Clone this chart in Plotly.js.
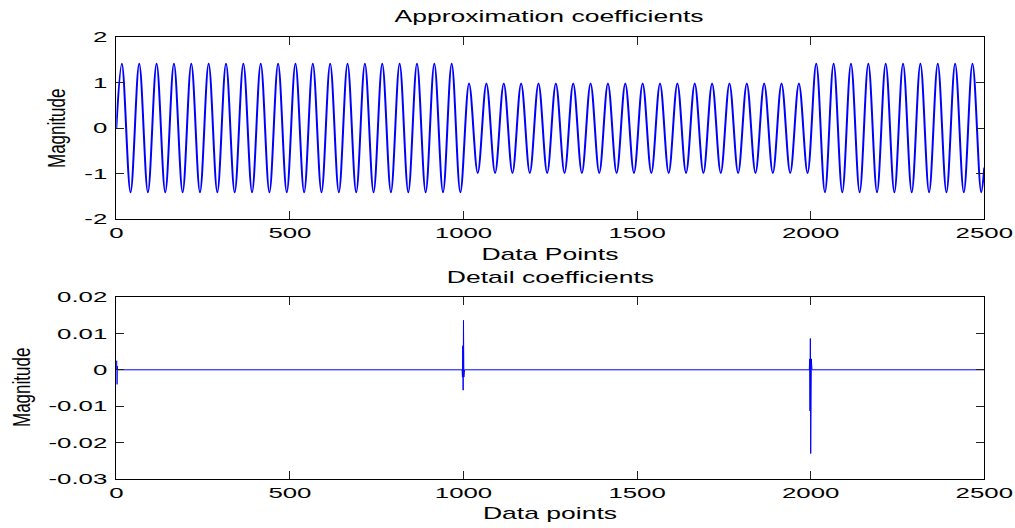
<!DOCTYPE html>
<html>
<head>
<meta charset="utf-8">
<script src="https://cdn.plot.ly/plotly-3.0.1.min.js"></script>
<style>
  html, body { margin: 0; padding: 0; background: #ffffff; }
  #chart { width: 1015px; height: 528px; }
</style>
</head>
<body>
<div id="chart"></div>
<script>
// ---- Data ----
// Approximation coefficients: positions (data points) and values of the wave's peaks and troughs
var approxX = [0,
  16, 41, 66, 91, 116, 141, 166, 191, 216, 241, 266, 291, 316, 341, 366, 391, 416, 441, 466, 491,
  516, 541, 566, 591, 616, 641, 666, 691, 716, 741, 766, 791, 816, 841, 866, 891, 916, 941, 966, 991,
  1016, 1041, 1066, 1091, 1116, 1141, 1166, 1191, 1216, 1241, 1266, 1291, 1316, 1341, 1366, 1391, 1416, 1441, 1466, 1491,
  1516, 1541, 1566, 1591, 1616, 1641, 1666, 1691, 1716, 1741, 1766, 1791, 1816, 1841, 1866, 1891, 1916, 1941, 1966, 1991,
  2016, 2041, 2066, 2091, 2116, 2141, 2166, 2191, 2216, 2241, 2266, 2291, 2316, 2341, 2366, 2391, 2416, 2441, 2466, 2491,
  2500];
var approxY = [0,
  1.41, -1.41, 1.41, -1.41, 1.41, -1.41, 1.41, -1.41, 1.41, -1.41, 1.41, -1.41, 1.41, -1.41, 1.41, -1.41, 1.41, -1.41, 1.41, -1.41,
  1.41, -1.41, 1.41, -1.41, 1.41, -1.41, 1.41, -1.41, 1.41, -1.41, 1.41, -1.41, 1.41, -1.41, 1.41, -1.41, 1.41, -1.41, 1.41, -1.41,
  0.98, -0.99, 0.98, -0.99, 0.98, -0.99, 0.98, -0.99, 0.98, -0.99, 0.98, -0.99, 0.98, -0.99, 0.98, -0.99, 0.98, -0.99, 0.98, -0.99,
  0.98, -0.99, 0.98, -0.99, 0.98, -0.99, 0.98, -0.99, 0.98, -0.99, 0.98, -0.99, 0.98, -0.99, 0.98, -0.99, 0.98, -0.99, 0.98, -0.99,
  1.41, -1.41, 1.41, -1.41, 1.41, -1.41, 1.41, -1.41, 1.41, -1.41, 1.41, -1.41, 1.41, -1.41, 1.41, -1.41, 1.41, -1.41, 1.41, -1.41,
  -0.87];

// Detail coefficients: flat at zero except short bursts at 0, 1000 and 2000
var detailX = [0, 1, 2, 3, 4,
  996, 997, 998, 999, 1000, 1001, 1002, 1003,
  1996, 1997, 1998, 1999, 2000, 2001, 2002, 2003, 2004,
  2500];
var detailY = [0, 0.0025, -0.004, 0.001, 0,
  0, -0.002, 0.0066, -0.0056, 0.0136, -0.002, 0.001, 0,
  0, 0.003, -0.0113, 0.0086, -0.023, -0.0025, 0.003, 0.001, 0,
  0];

// Tick values and labels
var xTickVals = [0, 500, 1000, 1500, 2000, 2500];
var xTickText = ['0', '500', '1000', '1500', '2000', '2500'];
var y1TickVals = [-2, -1, 0, 1, 2];
var y1TickText = ['-2', '-1', '0', '1', '2'];
var y2TickVals = [-0.03, -0.02, -0.01, 0, 0.01, 0.02];
var y2TickText = ['-0.03', '-0.02', '-0.01', '0', '0.01', '0.02'];

// Text
var topTitle = 'Approximation coefficients';
var bottomTitle = 'Detail coefficients';
var topXLabel = 'Data Points';
var bottomXLabel = 'Data points';
var yLabel = 'Magnitude';

// ---- Styling ----
var FONT = 'Liberation Sans, Arial, Helvetica, sans-serif';
var TICK_STRETCH = 1.72, TITLE_STRETCH = 1.56, YTITLE_STRETCH = 1.4;

function axisCommon() {
  return {
    showline: true, linecolor: '#000', linewidth: 1, mirror: 'ticks',
    ticks: 'inside', ticklen: 8, tickwidth: 1, tickcolor: '#222',
    showgrid: false, zeroline: false,
    tickfont: { family: FONT, size: 15, color: '#000' },
    tickmode: 'array', fixedrange: true
  };
}

var xa1 = Object.assign(axisCommon(), { domain: [0.11458, 0.96975], range: [0, 2500], tickvals: xTickVals, ticktext: xTickText, anchor: 'y' });
var xa2 = Object.assign(axisCommon(), { domain: [0.11458, 0.96975], range: [0, 2500], tickvals: xTickVals, ticktext: xTickText, anchor: 'y2' });
var ya1 = Object.assign(axisCommon(), { domain: [0.58523, 0.92992], range: [-2, 2], tickvals: y1TickVals, ticktext: y1TickText, anchor: 'x', ticklabelstandoff: 5 });
var ya2 = Object.assign(axisCommon(), { domain: [0.09280, 0.43750], range: [-0.03, 0.02], tickvals: y2TickVals, ticktext: y2TickText, anchor: 'x2', ticklabelstandoff: 5 });

var traces = [
  { x: approxX, y: approxY, xaxis: 'x', yaxis: 'y', type: 'scatter', mode: 'lines',
    line: { color: '#0000ff', width: 2, shape: 'spline', smoothing: 1 }, hoverinfo: 'skip' },
  { x: detailX, y: detailY, xaxis: 'x2', yaxis: 'y2', type: 'scatter', mode: 'lines',
    line: { color: '#0000ff', width: 1 }, hoverinfo: 'skip' }
];

function ann(text, x, y, angle) {
  return { text: text, x: x, y: y, xref: 'paper', yref: 'paper', xanchor: 'center', yanchor: 'middle',
    showarrow: false, textangle: angle || 0, font: { family: FONT, size: 17, color: '#000' } };
}

var layout = {
  width: 1015, height: 528,
  margin: { l: 0, r: 0, t: 0, b: 0 },
  paper_bgcolor: '#ffffff', plot_bgcolor: '#ffffff',
  showlegend: false,
  xaxis: xa1, yaxis: ya1, xaxis2: xa2, yaxis2: ya2,
  annotations: [
    ann(topTitle, 0.5409, 0.96875),
    ann(topXLabel, 0.5414, 0.51705),
    ann(yLabel, 0.05714, 0.75758, -90),
    ann(bottomTitle, 0.5419, 0.47443),
    ann(bottomXLabel, 0.5419, 0.02652),
    ann(yLabel, 0.02266, 0.26705, -90)
  ]
};

// The reference picture is horizontally stretched; widen glyphs the same way.
function stretchText(gd) {
  var nodes = gd.querySelectorAll('text');
  nodes.forEach(function (t) {
    var pc = (t.parentNode && t.parentNode.getAttribute('class')) || '';
    var c = t.getAttribute('class') || '';
    var s = null, rotated = false;
    if (/tick/.test(pc)) s = TICK_STRETCH;
    else if (/annotation-text/.test(c)) {
      s = TITLE_STRETCH;
      if (t.textContent === yLabel) { rotated = true; s = YTITLE_STRETCH; }
    }
    if (!s) return;
    var x = parseFloat(t.getAttribute('x')) || 0;
    var y = parseFloat(t.getAttribute('y')) || 0;
    var T = t.getAttribute('transform') || '';
    if (rotated) {
      var yc = y - 0.35 * 17;
      T += ' translate(' + x + ',' + yc + ') scale(1,' + s + ') translate(' + (-x) + ',' + (-yc) + ')';
    } else {
      T += ' translate(' + x + ',0) scale(' + s + ',1) translate(' + (-x) + ',0)';
    }
    t.setAttribute('transform', T);
  });
}

Plotly.newPlot('chart', traces, layout, { staticPlot: true, displayModeBar: false }).then(stretchText);
</script>
</body>
</html>
